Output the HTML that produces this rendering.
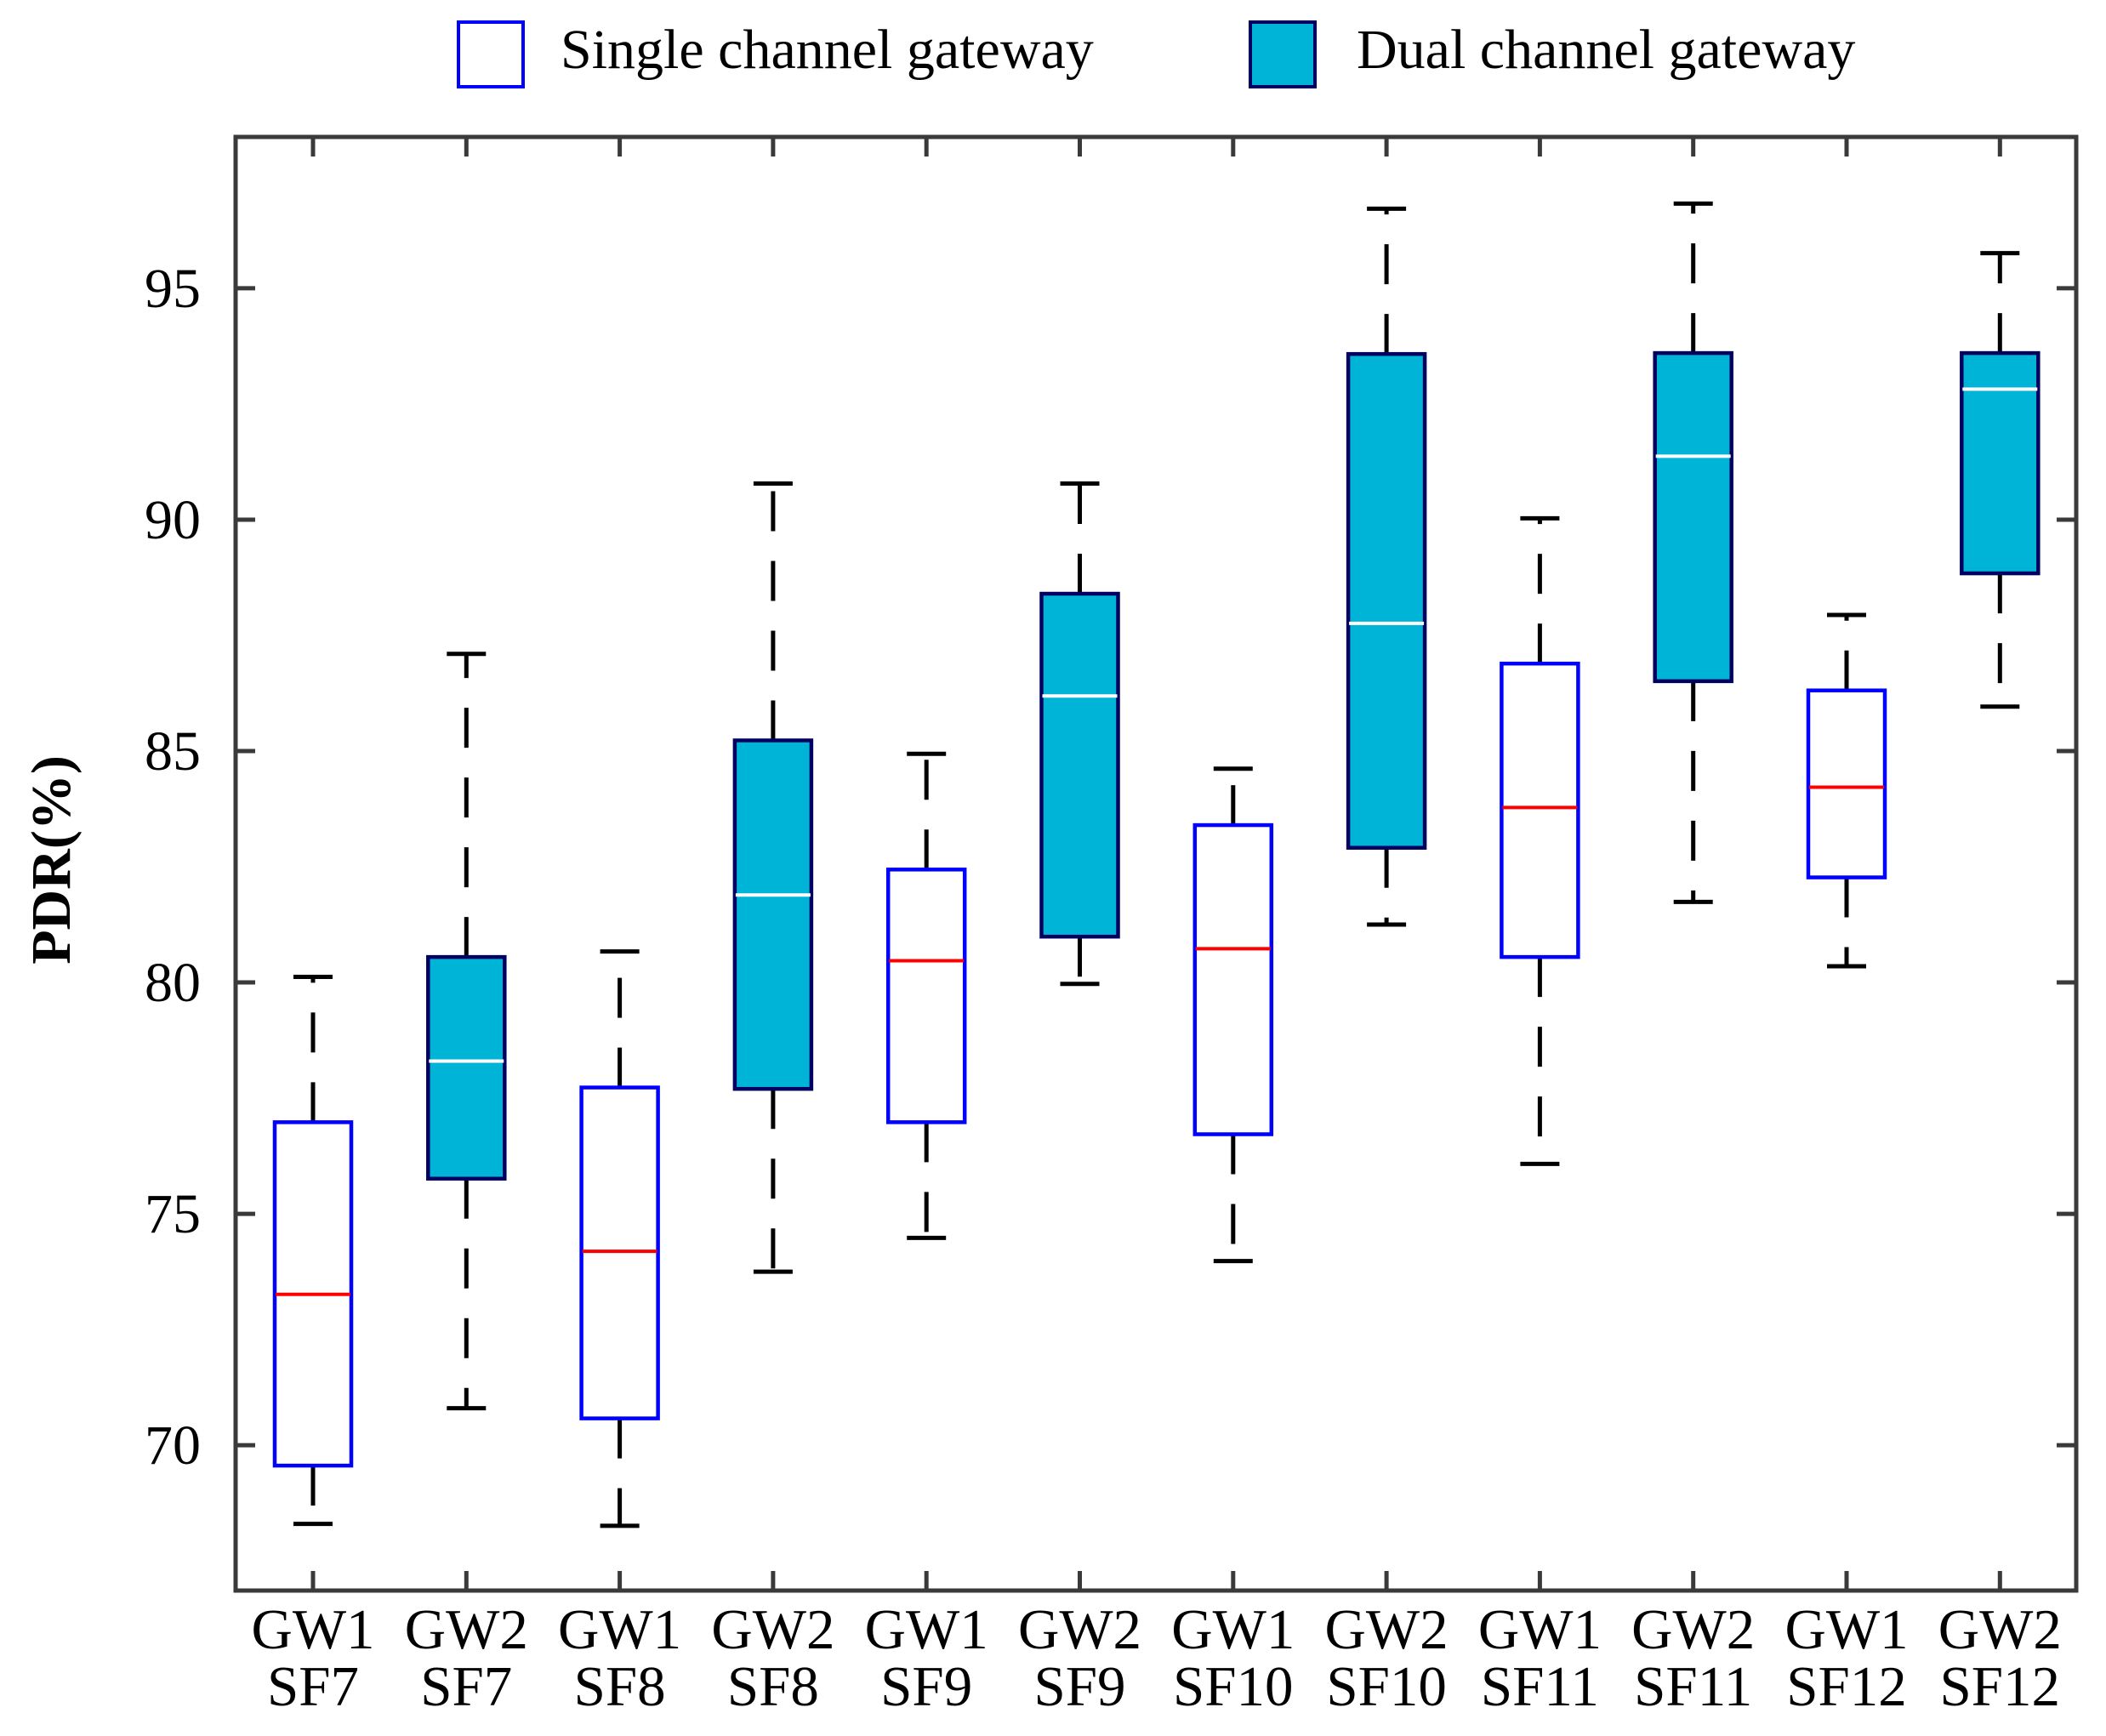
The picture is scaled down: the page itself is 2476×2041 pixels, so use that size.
<!DOCTYPE html>
<html><head><meta charset="utf-8"><style>
html,body{margin:0;padding:0;background:#fff}
svg text{font-family:"Liberation Serif",serif;fill:#000}
</style></head><body>
<svg id="chart" width="2476" height="2036" viewBox="0 0 2476 2036" xmlns="http://www.w3.org/2000/svg">
<g>
<rect x="539" y="26" width="76" height="76" fill="#fff" stroke="#0000ff" stroke-width="4"/>
<text x="659" y="80" font-size="66">Single channel gateway</text>
<rect x="1470" y="26" width="76" height="76" fill="#00b4d8" stroke="#000060" stroke-width="4"/>
<text x="1595" y="80" font-size="66">Dual channel gateway</text>
</g>
<g id="plot"></g>
<text transform="translate(82,1011) rotate(-90)" text-anchor="middle" font-size="66" font-weight="bold">PDR(%)</text>
</svg>
<script>
const cats1 = ["GW1","GW2","GW1","GW2","GW1","GW2","GW1","GW2","GW1","GW2","GW1","GW2"];
const cats2 = ["SF7","SF7","SF8","SF8","SF9","SF9","SF10","SF10","SF11","SF11","SF12","SF12"];
const dual = [false,true,false,true,false,true,false,true,false,true,false,true];
const whiskHigh = [80.12,87.1,80.67,90.78,84.94,90.78,84.62,96.72,90.03,96.83,87.94,95.76];
const q3 = [76.98,80.55,77.73,85.23,82.44,88.4,83.4,93.58,86.89,93.6,86.31,93.6];
const med = [73.26,78.3,74.19,81.89,80.47,86.19,80.73,87.76,83.78,91.37,84.22,92.82];
const q1 = [69.56,75.76,70.58,77.7,76.98,80.99,76.72,82.91,80.55,86.51,82.27,88.84];
const whiskLow = [68.3,70.8,68.26,73.75,74.48,79.97,73.98,81.25,76.08,81.74,80.35,85.96];
const yTicks = [70,75,80,85,90,95];

const L=277,R=2441,T=161,B=1870;
const yMin=66.86,yMax=98.27;
function ys(v){return B-(v-yMin)/(yMax-yMin)*(B-T);}
function xs(i){return 368+i*180.3;}
const NS="http://www.w3.org/2000/svg";
const g=document.getElementById('plot');
function mk(tag,attrs,parent){const e=document.createElementNS(NS,tag);for(const k in attrs)e.setAttribute(k,attrs[k]);(parent||g).appendChild(e);return e;}

const frame=mk('rect',{x:L,y:T,width:R-L,height:B-T,fill:'none',stroke:'#3a3a3a','stroke-width':5});



yTicks.forEach(v=>{
  const y=ys(v);
  const t=mk('line',{x1:L,y1:y,x2:L+23,y2:y,stroke:'#3a3a3a','stroke-width':5});
  
  
  const t2=mk('line',{x1:R,y1:y,x2:R-23,y2:y,stroke:'#3a3a3a','stroke-width':5});
  
  
  const lb=mk('text',{x:236,y:y+22,'text-anchor':'end','font-size':66});
  lb.textContent=v;
  
  
});

cats1.forEach((c,i)=>{
  const x=xs(i);
  const tb=mk('line',{x1:x,y1:B,x2:x,y2:B-23,stroke:'#3a3a3a','stroke-width':5});
  
  
  const tt=mk('line',{x1:x,y1:T,x2:x,y2:T+23,stroke:'#3a3a3a','stroke-width':5});
  
  
  const l1=mk('text',{x:x,y:1938,'text-anchor':'middle','font-size':67});
  l1.textContent=c;
  
  
  const l2=mk('text',{x:x,y:2005,'text-anchor':'middle','font-size':67});
  l2.textContent=cats2[i];
  
  

  const grp=mk('g',{});
  
  
  const ws={stroke:'#000','stroke-width':5,'stroke-dasharray':'47 35'};
  const w1=mk('line',Object.assign({x1:x,y1:ys(q3[i]),x2:x,y2:ys(whiskHigh[i])},ws),grp);
  
  
  const w2=mk('line',Object.assign({x1:x,y1:ys(q1[i]),x2:x,y2:ys(whiskLow[i])},ws),grp);
  
  
  const c1=mk('line',{x1:x-23,y1:ys(whiskHigh[i]),x2:x+23,y2:ys(whiskHigh[i]),stroke:'#000','stroke-width':5},grp);
  
  
  const c2=mk('line',{x1:x-23,y1:ys(whiskLow[i]),x2:x+23,y2:ys(whiskLow[i]),stroke:'#000','stroke-width':5},grp);
  
  
  const bx=mk('rect',{x:x-45,y:ys(q3[i]),width:90,height:ys(q1[i])-ys(q3[i]),
    fill:dual[i]?'#00b4d8':'#fff',stroke:dual[i]?'#000060':'#0000ff','stroke-width':4.5},grp);
  
  
  const md=mk('line',{x1:x-44,y1:ys(med[i]),x2:x+44,y2:ys(med[i]),stroke:dual[i]?'#ffffff':'#ff0000','stroke-width':4},grp);
  
  
});
</script>
</body></html>
